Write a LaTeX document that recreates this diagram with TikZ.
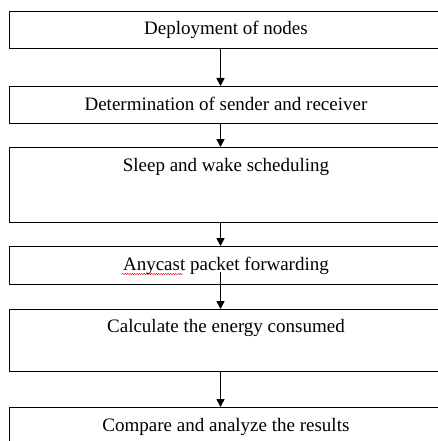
\documentclass[tikz,border=0pt]{standalone}
\usepackage{fontspec}
\setmainfont{Liberation Serif}
\usetikzlibrary{arrows.meta,decorations.pathmorphing}

\begin{document}
\begin{tikzpicture}[x=1pt,y=1pt]
\tikzstyle{every node}+=[inner sep=0pt]
\tikzstyle{stepbox}=[draw, line width=0.9pt, anchor=north west, minimum width=433pt, font=\fontsize{19}{22}\selectfont]
\tikzstyle{flow}=[line width=1.6pt, -{Triangle[length=8pt,width=8pt]}]
\useasboundingbox (0,0) rectangle (438,-441);
\clip (0,0) rectangle (438,-441);
% boxes
\node [stepbox, text height=23pt, text depth=14pt] (deploy) at (9,-11) {Deployment of nodes};
\node [stepbox, text height=24pt, text depth=13pt] (sender) at (9,-86) {Determination of sender and receiver};
\node [stepbox, text height=24pt, text depth=51pt] (sleep) at (9,-147) {Sleep and wake scheduling};
\node [stepbox, text height=24pt, text depth=14pt] (anycast) at (9,-246) {Anycast packet forwarding};
\node [stepbox, text height=23pt, text depth=39pt] (energy) at (9,-309) {Calculate the energy consumed};
\node [stepbox, text height=24pt, text depth=40pt] (compare) at (9,-407) {Compare and analyze the results};
% arrows
\coordinate (ax) at (220.5,0);
\coordinate (fwd) at (220.5,-272);
\draw [flow] (deploy.south -| ax) -- (sender.north -| ax);
\draw [flow] (sender.south -| ax) -- (sleep.north -| ax);
\draw [flow] (sleep.south -| ax) -- (anycast.north -| ax);
\draw [flow] (fwd) -- (energy.north -| ax);
\draw [flow] (energy.south -| ax) -- (compare.north -| ax);
% spell check mark
\draw [red, line width=0.4pt, decorate, decoration={snake, amplitude=0.7pt, segment length=2.4pt}] (122,-274) -- (183,-274);
\end{tikzpicture}
\end{document}
